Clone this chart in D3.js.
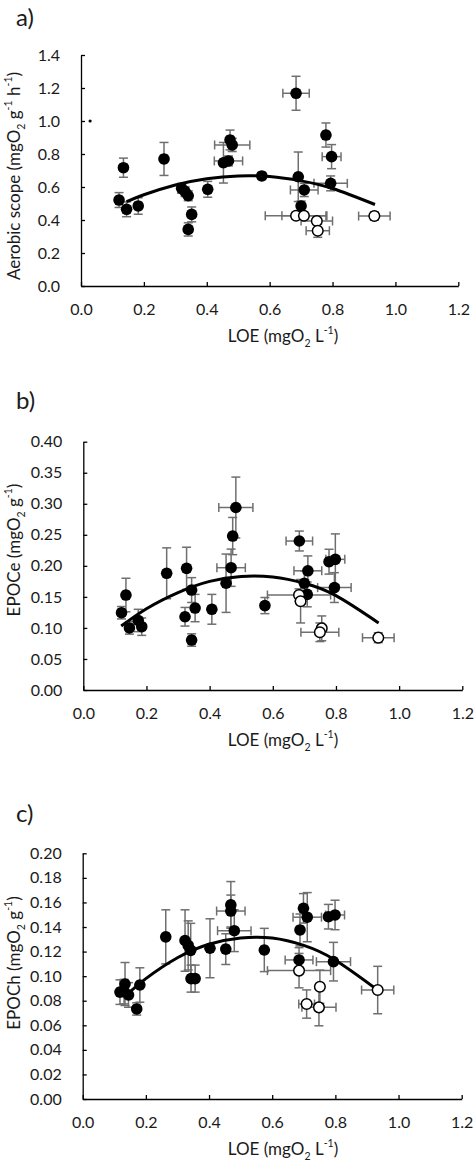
<!DOCTYPE html>
<html><head><meta charset="utf-8">
<script src="https://cdn.jsdelivr.net/npm/d3@7"></script>
<style>
html,body{margin:0;padding:0;background:#fff;}
svg{display:block;}
text{font-family:Lato,"Liberation Sans",sans-serif;fill:#1a1a1a;}
</style></head>
<body>
<script>
// ---- shared x axis ----
const xTicks = [0, 0.2, 0.4, 0.6, 0.8, 1.0, 1.2];

// ---- panel a: Aerobic scope ----  [LOE, value, LOE err, value err]
const scopeFilled = [
  [0.121,0.521,0.01,0.045],[0.135,0.717,0.01,0.058],[0.145,0.465,0.01,0.045],
  [0.182,0.485,0.01,0.05],[0.264,0.770,0.01,0.10],[0.320,0.592,0.01,0.03],
  [0.331,0.572,0.01,0.03],[0.341,0.547,0.01,0.03],[0.352,0.434,0.01,0.045],
  [0.341,0.343,0.01,0.04],[0.403,0.586,0.01,0.048],[0.453,0.747,0.01,0.123],
  [0.469,0.758,0.045,0.03],[0.474,0.885,0.01,0.06],[0.481,0.855,0.056,0.04],
  [0.575,0.667,0.01,0.02],[0.684,1.168,0.042,0.103],[0.691,0.662,0.01,0.15],
  [0.710,0.582,0.044,0.04],[0.700,0.485,0.01,0.03],[0.779,0.915,0.01,0.073],
  [0.797,0.784,0.03,0.073],[0.794,0.622,0.053,0.045]
];
const scopeOpen = [
  [0.684,0.426,0.098,0.02],[0.709,0.426,0.07,0.02],[0.750,0.394,0.05,0.02],
  [0.753,0.335,0.037,0.04],[0.933,0.424,0.05,0.025]
];
const scopeStray = [[0.029,1.0]];
const scopeCurveX = [0.145,0.2,0.3,0.4,0.5,0.6,0.7,0.8,0.935];
const scopeCurveY = [0.511,0.553,0.612,0.650,0.667,0.663,0.637,0.591,0.494];
const scopeTicks = [0,0.2,0.4,0.6,0.8,1.0,1.2,1.4];

// ---- panel b: EPOCe ----
const epoceFilled = [
  [0.121,0.1245,0.01,0.01],[0.135,0.153,0.01,0.027],[0.146,0.100,0.01,0.01],
  [0.174,0.112,0.01,0.018],[0.185,0.102,0.01,0.014],[0.264,0.188,0.01,0.041],
  [0.322,0.118,0.01,0.015],[0.327,0.196,0.01,0.034],[0.343,0.161,0.01,0.02],
  [0.354,0.132,0.01,0.022],[0.343,0.0805,0.01,0.01],[0.407,0.130,0.01,0.024],
  [0.452,0.172,0.01,0.047],[0.468,0.197,0.045,0.03],[0.473,0.248,0.01,0.03],
  [0.483,0.294,0.054,0.049],[0.575,0.136,0.01,0.013],[0.684,0.240,0.042,0.016],
  [0.711,0.192,0.044,0.024],[0.700,0.172,0.01,0.02],[0.709,0.154,0.01,0.02],
  [0.778,0.2067,0.01,0.02],[0.798,0.2105,0.03,0.041],[0.795,0.165,0.053,0.024]
];
const epoceOpen = [
  [0.683,0.153,0.1,0.01],[0.688,0.143,0.01,0.035],[0.755,0.0993,0.01,0.02],
  [0.749,0.093,0.06,0.015],[0.934,0.0843,0.05,0.008]
];
const epoceCurveX = [0.12,0.2,0.3,0.4,0.5,0.6,0.7,0.8,0.935];
const epoceCurveY = [0.103,0.131,0.157,0.175,0.183,0.182,0.172,0.152,0.108];
const epoceTicks = [0,0.05,0.10,0.15,0.20,0.25,0.30,0.35,0.40];

// ---- panel c: EPOCh ----
const epochFilled = [
  [0.118,0.087,0.01,0.01],[0.134,0.0936,0.01,0.0175],[0.131,0.0874,0.01,0.01],
  [0.145,0.0847,0.01,0.01],[0.171,0.0733,0.01,0.005],[0.181,0.0928,0.01,0.014],
  [0.263,0.132,0.01,0.022],[0.324,0.129,0.01,0.025],[0.334,0.125,0.01,0.02],
  [0.342,0.121,0.01,0.022],[0.343,0.098,0.01,0.011],[0.356,0.098,0.01,0.011],
  [0.403,0.1227,0.01,0.024],[0.453,0.122,0.01,0.0125],[0.469,0.158,0.01,0.019],
  [0.469,0.153,0.045,0.013],[0.480,0.137,0.053,0.017],[0.575,0.1213,0.01,0.0176],
  [0.688,0.1376,0.01,0.013],[0.685,0.1132,0.044,0.01],[0.699,0.1552,0.01,0.012],
  [0.711,0.148,0.045,0.02],[0.778,0.1484,0.01,0.01],[0.799,0.1498,0.03,0.012],
  [0.794,0.1118,0.054,0.0157]
];
const epochOpen = [
  [0.685,0.1045,0.1,0.014],[0.751,0.0914,0.01,0.0135],[0.709,0.0773,0.025,0.0115],
  [0.748,0.0746,0.054,0.015],[0.934,0.0887,0.051,0.0193]
];
const epochCurveX = [0.14,0.2,0.3,0.4,0.5,0.6,0.7,0.8,0.934];
const epochCurveY = [0.085,0.098,0.115,0.126,0.131,0.131,0.125,0.113,0.0887];
const epochTicks = [0,0.02,0.04,0.06,0.08,0.10,0.12,0.14,0.16,0.18,0.20];

const xTitle = [["LOE (mgO",""],["2","sub"],[" L",""],["-1","sup"],[")",""]];

const panels = [
  {label:"a)", labelY:26, left:81, right:458.3, top:55, bottom:286, ymax:1.4, yTicks:scopeTicks, fmt:".1f",
   filled:scopeFilled, open:scopeOpen, stray:scopeStray, cx:scopeCurveX, cy:scopeCurveY, yTitleY:176,
   yTitle:[["Aerobic scope (mgO",""],["2","sub"],[" g",""],["-1","sup"],[" h",""],["-1","sup"],[")",""]]},
  {label:"b)", labelY:409, left:83.3, right:462.3, top:441.7, bottom:690, ymax:0.40, yTicks:epoceTicks, fmt:".2f",
   filled:epoceFilled, open:epoceOpen, stray:[], cx:epoceCurveX, cy:epoceCurveY, yTitleY:550,
   yTitle:[["EPOCe (mgO",""],["2","sub"],[" g",""],["-1","sup"],[")",""]]},
  {label:"c)", labelY:822, left:82.7, right:461.7, top:853.3, bottom:1099, ymax:0.20, yTicks:epochTicks, fmt:".2f",
   filled:epochFilled, open:epochOpen, stray:[], cx:epochCurveX, cy:epochCurveY, yTitleY:963,
   yTitle:[["EPOCh (mgO",""],["2","sub"],[" g",""],["-1","sup"],[")",""]]}
];

const svg = d3.select("body").append("svg").attr("width",474).attr("height",1162);
svg.append("rect").attr("width",474).attr("height",1162).attr("fill","#fff");

function richText(sel, parts){
  const fs = 17;
  let shift = 0;
  parts.forEach(([t,type])=>{
    const ts = sel.append("tspan").text(t);
    if(type==="sub"){ ts.attr("font-size","0.62em").attr("dy", 0.28*fs - shift); shift = 0.28*fs; }
    else if(type==="sup"){ ts.attr("font-size","0.62em").attr("dy", -0.45*fs - shift); shift = -0.45*fs; }
    else { ts.attr("dy", -shift); shift = 0; }
  });
}

const ERR = "#6f6f6f";
panels.forEach(p=>{
  const g = svg.append("g");
  const x = d3.scaleLinear().domain([0,1.2]).range([p.left,p.right]);
  const y = d3.scaleLinear().domain([0,p.ymax]).range([p.bottom,p.top]);

  // panel label
  g.append("text").attr("x",16).attr("y",p.labelY).attr("font-size",24).text(p.label);

  // axes
  const ya = g.append("g").attr("transform",`translate(${p.left},0)`)
    .call(d3.axisLeft(y).tickValues(p.yTicks).tickFormat(d3.format(p.fmt)).tickSize(-4).tickSizeOuter(0).tickPadding(21));
  const xa = g.append("g").attr("transform",`translate(0,${p.bottom})`)
    .call(d3.axisBottom(x).tickValues(xTicks).tickFormat(d3.format(".1f")).tickSize(-4).tickSizeOuter(0).tickPadding(18));
  [ya,xa].forEach(a=>{
    a.selectAll("path.domain").attr("stroke","#000").attr("stroke-width",1.3);
    a.selectAll(".tick line").attr("stroke","#000").attr("stroke-width",1.3);
    a.selectAll("text").attr("font-size",16).attr("font-family","Lato,'Liberation Sans',sans-serif").attr("fill","#1a1a1a");
  });

  // axis titles
  const xt = g.append("text").attr("x",283).attr("y",p.bottom+56).attr("text-anchor","middle").attr("font-size",17);
  richText(xt, xTitle);
  const yt = g.append("text").attr("transform",`translate(20,${p.yTitleY}) rotate(-90)`).attr("text-anchor","middle").attr("font-size",17);
  richText(yt, p.yTitle);

  // error bars
  const cap = 4.5;
  const all = p.filled.concat(p.open);
  const eg = g.append("g").attr("stroke",ERR).attr("stroke-width",1.5).attr("fill","none");
  all.forEach(d=>{
    const cx = x(d[0]), cy = y(d[1]);
    const y1 = y(d[1]+d[3]), y2 = y(d[1]-d[3]);
    const x1 = x(d[0]-d[2]), x2 = x(d[0]+d[2]);
    eg.append("line").attr("x1",cx).attr("x2",cx).attr("y1",y1).attr("y2",y2);
    eg.append("line").attr("x1",cx-cap).attr("x2",cx+cap).attr("y1",y1).attr("y2",y1);
    eg.append("line").attr("x1",cx-cap).attr("x2",cx+cap).attr("y1",y2).attr("y2",y2);
    eg.append("line").attr("x1",x1).attr("x2",x2).attr("y1",cy).attr("y2",cy);
    eg.append("line").attr("x1",x1).attr("x2",x1).attr("y1",cy-cap).attr("y2",cy+cap);
    eg.append("line").attr("x1",x2).attr("x2",x2).attr("y1",cy-cap).attr("y2",cy+cap);
  });

  // trend curve
  const pts = p.cx.map((v,i)=>[v,p.cy[i]]);
  g.append("path").datum(pts).attr("fill","none").attr("stroke","#000").attr("stroke-width",3)
    .attr("d", d3.line().x(d=>x(d[0])).y(d=>y(d[1])).curve(d3.curveNatural));

  // markers
  g.append("g").selectAll("circle").data(p.filled).join("circle")
    .attr("cx",d=>x(d[0])).attr("cy",d=>y(d[1])).attr("r",5.8).attr("fill","#000");
  g.append("g").selectAll("circle").data(p.open).join("circle")
    .attr("cx",d=>x(d[0])).attr("cy",d=>y(d[1])).attr("r",5.3).attr("fill","#fff").attr("stroke","#000").attr("stroke-width",1.5);
  g.append("g").selectAll("circle").data(p.stray).join("circle")
    .attr("cx",d=>x(d[0])).attr("cy",d=>y(d[1])).attr("r",1.6).attr("fill","#000");
});
</script>
</body></html>
